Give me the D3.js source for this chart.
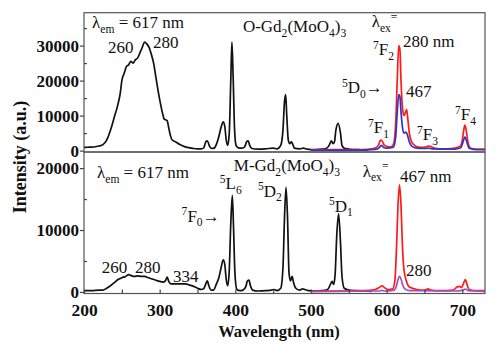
<!DOCTYPE html>
<html><head><meta charset="utf-8">
<script src="https://cdn.jsdelivr.net/npm/d3@7/dist/d3.min.js"></script>
<style>body{margin:0;background:#fff}svg{display:block}
svg text{font-family:"Liberation Serif","Times New Roman","DejaVu Serif",serif !important}
</style>
</head><body>
<svg id="c" width="500" height="356"></svg>
<script>
// ---------- DATA ----------
const xTicks = [200, 300, 400, 500, 600, 700];
const xMinor = [250, 350, 450, 550, 650];
const topYTicks = [0, 10000, 20000, 30000];
const topYMinor = [5000, 15000, 25000, 35000];
const botYTicks = [0, 10000, 20000];
const botYMinor = [5000, 15000];

// O-Gd2(MoO4)3 excitation (λem = 617 nm)
const oExWl  = [200,205,210,215,220,225,230,235,240,244,248,250,253,256,259,262,265,268,271,274,277,280,283,286,289,292,295,298,301,304,306,308,310,312,314,316,319,322,326,330,335,340,345,350,355,358,361,363,366,369,372,375,378,381,384,386,388,390,392,394,395.5,397,399,401,404,408,412,415,417,419,422,430,440,450,455,460,463,465,466.5,468,470,472,474,476,478,485,490,495,500,505,515,520,524,527,529,531,533,536,539,541,544,548,555,565,575];
const oExVal = [900,950,1000,1100,1300,1700,3000,5800,9500,12500,16500,20000,22000,24000,24500,25500,25000,26000,26500,28000,29500,31000,30500,29500,27500,25000,21000,17000,13500,10500,9000,8800,8500,6500,4500,3200,2700,2400,1800,1400,1000,800,600,500,500,700,2500,2800,1200,600,700,1800,3800,6500,8200,7000,3000,1500,5000,20000,31000,22000,6000,1500,800,700,1000,2500,2800,1500,600,400,500,700,500,1500,6000,14000,16000,10000,3000,2000,2500,1800,700,500,700,400,300,300,400,600,1500,2800,2000,2500,6000,7800,5000,1500,700,500,300,250,200];
// O-Gd2(MoO4)3 emission, λex = 280 nm (red)
const oEm280Wl  = [500,520,540,560,575,585,589,592,594,597,600,605,609,612,614,616,617.5,619,621,623,625,626.5,628,630,633,637,642,648,652,655,658,662,670,680,690,695,698,700,702,703.5,705,707,709,712,720,730];
const oEm280Val = [200,250,300,300,350,700,1500,3000,2800,1500,1200,1000,1800,8000,20000,30000,29000,20000,12000,10000,11000,11700,9000,5000,2500,1500,1000,900,1100,1300,1200,800,500,500,700,1000,1500,3000,6000,7300,6000,3000,1200,600,400,400];
// O-Gd2(MoO4)3 emission, λex = 467 nm (blue)
const oEm467Wl  = [500,560,585,590,593,596,600,609,612,614,616,617.5,619,621,623,625,627,630,633,640,650,655,660,690,698,701,703.5,706,709,720,730];
const oEm467Val = [100,150,350,800,1500,900,700,1000,4000,11000,16000,15500,11000,6500,5000,5300,4800,2500,1300,700,600,700,500,400,800,2500,3900,2500,700,250,250];

// M-Gd2(MoO4)3 excitation (λem = 617 nm)
const mExWl  = [200,210,220,225,230,235,240,245,250,255,259,263,267,271,275,280,285,290,295,300,305,308,310,312,315,320,327,334,340,345,350,355,358,361,363,365,368,371,375,378,381,384,386,388,390,392,394,396,397.5,399.5,402,406,410,414,416,418,420,423,430,440,448,451,455,460,463,465,467,469,471,473,475,477,480,485,489,492,497,505,515,522,526,528,530,532,534,536.5,539,541,544,550,560,570,580];
const mExVal = [200,200,300,300,600,1000,1500,2000,2300,2500,2800,2600,2500,2600,2500,2500,2300,2100,1900,1700,1600,1900,2400,1700,1300,1300,1300,1300,1100,900,600,400,500,1300,1800,1000,300,300,1300,2200,3800,5200,4500,2000,1000,3500,11000,15600,11000,3000,400,200,300,900,1800,1900,1000,300,150,200,300,400,200,600,4000,12000,16900,12000,3000,1800,2500,1500,600,300,500,400,200,150,200,400,1300,1700,1200,3000,9000,12600,8000,2500,600,300,200,150,100];
// M-Gd2(MoO4)3 emission, λex = 467 nm (red)
const mEm467Wl  = [500,540,570,585,590,594,597,602,608,611,613,615,617,619,621,623,626,630,640,650,655,658,670,688,693,696,699,701,704,706,709,720,730];
const mEm467Val = [150,150,200,400,700,1000,700,400,500,2000,7000,14000,17300,14000,7000,3500,1800,800,400,300,500,300,200,300,800,900,700,1200,2000,1300,400,200,200];
// M-Gd2(MoO4)3 emission, λex = 280 nm (purple)
const mEm280Wl  = [500,590,594,598,610,613,615,617,619,621,624,630,690,700,704,708,730];
const mEm280Val = [50,150,250,150,300,1000,2000,2500,2100,1200,500,200,150,250,450,200,100];

// ---------- CHART ----------
const svg = d3.select("#c");
const FONT = "Liberation Serif";
const L = 84, R = 485;
const x = d3.scaleLinear().domain([200, 730]).range([L, R]);
const panels = [
  {top: 12.7, bot: 152, dom: [-400, 39400], ticks: topYTicks, minor: topYMinor, xlab: false,
   series: [{wl: oExWl, v: oExVal, c: "#111"}, {wl: oEm280Wl, v: oEm280Val, c: "#ff1a1a"}, {wl: oEm467Wl, v: oEm467Val, c: "#3333cc"}]},
  {top: 152, bot: 293.5, dom: [-250, 22600], ticks: botYTicks, minor: botYMinor, xlab: true,
   series: [{wl: mExWl, v: mExVal, c: "#111"}, {wl: mEm467Wl, v: mEm467Val, c: "#ff1a1a"}, {wl: mEm280Wl, v: mEm280Val, c: "#a050c4"}]}
];

function rich(g, str, px, py, size, anchor) {
  const t = g.append("text").attr("x", px).attr("y", py)
    .style("font-family", FONT).attr("font-size", size).attr("fill", "#111")
    .attr("text-anchor", anchor || "start");
  const parts = str.match(/(\^\{[^}]*\}|_\{[^}]*\}|[^_^]+)/g);
  let cur = 0;
  parts.forEach(p => {
    let shift = 0, txt = p, fs = size;
    if (p.startsWith("^{")) { shift = -size * 0.38; txt = p.slice(2, -1); fs = size * 0.68; }
    else if (p.startsWith("_{")) { shift = size * 0.28; txt = p.slice(2, -1); fs = size * 0.68; }
    t.append("tspan").attr("dy", shift - cur).attr("font-size", fs).text(txt);
    cur = shift;
  });
  return t;
}

panels.forEach(p => {
  const y = d3.scaleLinear().domain(p.dom).range([p.bot, p.top]);
  p.y = y;
  const g = svg.append("g");
  const clipId = "clip" + Math.round(p.top);
  svg.append("clipPath").attr("id", clipId).append("rect")
    .attr("x", L).attr("y", p.top).attr("width", R - L).attr("height", p.bot - p.top);
  const line = d3.line().x(d => x(d[0])).y(d => y(d[1])).curve(d3.curveMonotoneX);
  p.series.forEach(s => {
    g.append("path").datum(s.wl.map((w, i) => [w, s.v[i]]))
      .attr("clip-path", `url(#${clipId})`)
      .attr("fill", "none").attr("stroke", s.c).attr("stroke-width", 1.7)
      .attr("stroke-linejoin", "round").attr("d", line);
  });
  g.append("rect").attr("x", L).attr("y", p.top).attr("width", R - L).attr("height", p.bot - p.top)
    .attr("fill", "none").attr("stroke", "#555").attr("stroke-width", 1.2);
  const ya = g.append("g").attr("transform", `translate(${L},0)`)
    .call(d3.axisLeft(y).tickValues(p.ticks).tickSize(4).tickPadding(1).tickFormat(d3.format("d")));
  ya.select(".domain").remove();
  ya.selectAll("line").attr("stroke", "#444").attr("stroke-width", 1.2);
  ya.selectAll("text").style("font-family", FONT).attr("font-weight", "bold").attr("font-size", 17).attr("fill", "#111");
  const ym = g.append("g").attr("transform", `translate(${L},0)`)
    .call(d3.axisRight(y).tickValues(p.minor).tickSize(3).tickFormat(""));
  ym.select(".domain").remove();
  ym.selectAll("line").attr("stroke", "#444").attr("stroke-width", 1.2);
  if (p.xlab) {
    const xa = g.append("g").attr("transform", `translate(0,${p.bot})`)
      .call(d3.axisTop(x).tickValues(xTicks.concat(xMinor)).tickSize(4).tickFormat(""));
    xa.select(".domain").remove();
    xa.selectAll("line").attr("stroke", "#444").attr("stroke-width", 1.2);
    const xl = g.append("g").attr("transform", `translate(0,${p.bot})`)
      .call(d3.axisBottom(x).tickValues(xTicks).tickSize(0).tickPadding(10).tickFormat(d3.format("d")));
    xl.select(".domain").remove();
    xl.selectAll("text").style("font-family", FONT).attr("font-weight", "bold").attr("font-size", 17.5).attr("fill", "#111");
  }
});

const yt = panels[0].y, yb = panels[1].y;
const A = svg.append("g");
const topNotes = [
  ["λ_{em} = 617 nm", 210.6, 35030], ["260", 231.7, 27900], ["280", 291.2, 29310],
  ["O-Gd_{2}(MoO_{4})_{3}", 410, 33880], ["λ_{ex}^{=}", 580.2, 35310], ["280 nm", 621.6, 29600],
  ["^{7}F_{2}", 582, 27310], ["^{5}D_{0}→", 541, 16460], ["467", 625.6, 15310],
  ["^{7}F_{1}", 575.4, 5030], ["^{7}F_{3}", 640, 3030], ["^{7}F_{4}", 690.4, 8740]
];
const botNotes = [
  ["λ_{em} = 617 nm", 217.2, 18400], ["M-Gd_{2}(MoO_{4})_{3}", 398, 19530], ["^{5}L_{6}", 379.5, 16620],
  ["^{7}F_{0}→", 329, 11350], ["260", 223.4, 3060], ["280", 267.4, 3060], ["334", 317.6, 1660],
  ["^{5}D_{2}", 430, 15380], ["^{5}D_{1}", 523.8, 12960], ["λ_{ex}^{=}", 568.4, 18610],
  ["467 nm", 617.7, 17710], ["280", 625.6, 2576]
];
topNotes.forEach(n => rich(A, n[0], x(n[1]), yt(n[2]), 17));
botNotes.forEach(n => rich(A, n[0], x(n[1]), yb(n[2]), 17));

svg.append("text").attr("x", 279).attr("y", 337).attr("text-anchor", "middle")
  .style("font-family", FONT).attr("font-weight", "bold").attr("font-size", 16.5).attr("fill", "#111")
  .text("Wavelength (nm)");
svg.append("text").attr("transform", "translate(26,157) rotate(-90)").attr("text-anchor", "middle")
  .style("font-family", FONT).attr("font-weight", "bold").attr("font-size", 18).attr("fill", "#111")
  .text("Intensity (a.u.)");
</script>
</body></html>
